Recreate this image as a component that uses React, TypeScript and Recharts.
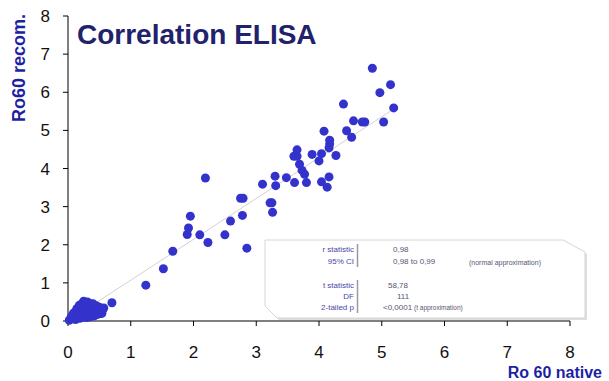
import { ScatterChart, Scatter, XAxis, YAxis } from "recharts";

const X_TICKS = [0, 1, 2, 3, 4, 5, 6, 7, 8];
const Y_TICKS = [0, 1, 2, 3, 4, 5, 6, 7, 8];

// main scatter (native x, recombinant y)
const SPREAD_X = [
  4.85, 5.14, 4.97, 5.19, 4.39, 5.03, 4.69, 4.73, 4.55, 4.08, 4.44, 4.52, 4.17, 4.17, 4.16,
  4.27, 4.04, 4.0, 3.89, 3.65, 3.6, 3.65, 3.69, 3.73, 3.77, 3.48, 3.61, 3.8, 4.04, 4.16,
  4.13, 3.3, 3.31, 3.1, 2.19, 2.75, 2.79, 3.22, 3.25, 3.26, 2.78, 2.59, 1.95, 1.92, 1.9,
  2.1, 2.23, 2.5, 2.85, 1.67, 1.52, 1.24, 0.7,
];
const SPREAD_Y = [
  6.63, 6.2, 5.99, 5.59, 5.69, 5.22, 5.22, 5.22, 5.25, 4.98, 4.99, 4.82, 4.74, 4.64, 4.54,
  4.34, 4.39, 4.2, 4.37, 4.49, 4.32, 4.32, 4.11, 3.95, 3.85, 3.76, 3.63, 3.63, 3.65, 3.78,
  3.51, 3.8, 3.55, 3.59, 3.75, 3.22, 3.22, 3.1, 3.1, 2.85, 2.77, 2.62, 2.75, 2.44, 2.27,
  2.26, 2.06, 2.26, 1.91, 1.83, 1.37, 0.94, 0.48,
];

// negative samples bunched near the origin
const LOW_X = [
  0.02, 0.04, 0.05, 0.08, 0.09, 0.11, 0.11, 0.12, 0.13, 0.15, 0.15, 0.18, 0.19, 0.2, 0.21,
  0.22, 0.23, 0.24, 0.25, 0.25, 0.26, 0.28, 0.29, 0.3, 0.31, 0.31, 0.32, 0.33, 0.34, 0.35,
  0.35, 0.36, 0.37, 0.38, 0.38, 0.41, 0.41, 0.43, 0.44, 0.45, 0.46, 0.47, 0.48, 0.5, 0.5,
  0.52, 0.53, 0.55, 0.54, 0.57, 0.12, 0.19, 0.24, 0.07, 0.14, 0.09, 0.3, 0.44, 0.4, 0.18,
];
const LOW_Y = [
  0.02, 0.05, 0.1, 0.07, 0.14, 0.11, 0.19, 0.24, 0.09, 0.17, 0.28, 0.21, 0.35, 0.13, 0.27,
  0.45, 0.33, 0.39, 0.52, 0.19, 0.28, 0.43, 0.12, 0.35, 0.5, 0.23, 0.17, 0.41, 0.3, 0.46,
  0.11, 0.37, 0.24, 0.41, 0.18, 0.3, 0.13, 0.37, 0.23, 0.4, 0.17, 0.32, 0.26, 0.36, 0.19,
  0.24, 0.33, 0.29, 0.2, 0.34, 0.04, 0.07, 0.1, 0.15, 0.32, 0.21, 0.09, 0.16, 0.45, 0.41,
];

// fitted line end points
const FIT_X = [0, 5.2];
const FIT_Y = [0, 5.57];

const STAT_LABELS = ["r statistic", "95% CI", "t statistic", "DF", "2-tailed p"];

const points = [
  ...SPREAD_X.map((x, i) => ({ x, y: SPREAD_Y[i] })),
  ...LOW_X.map((x, i) => ({ x, y: LOW_Y[i] })),
];
const fitLine = FIT_X.map((x, i) => ({ x, y: FIT_Y[i] }));

const FONT = "'Liberation Sans', Arial, sans-serif";
const DOT = "#3333cc";
const AXIS_BLUE = "#1f1fa3";

const Dot = (props: any) => <circle cx={props.cx} cy={props.cy} r={4.5} fill={DOT} />;

export default function App() {
  const tick = { fontSize: 17, fill: "#111", fontFamily: FONT };
  return (
    <div style={{ position: "absolute", left: 0, top: 0, width: 609, height: 381, background: "#fff" }}>
      <ScatterChart width={609} height={381} margin={{ top: 16, right: 39, bottom: 30, left: 0 }}>
        <XAxis
          type="number"
          dataKey="x"
          domain={[0, 8]}
          ticks={X_TICKS}
          height={30}
          tickSize={5}
          tickMargin={20}
          tick={tick}
          axisLine={{ stroke: "#000" }}
          tickLine={{ stroke: "#000" }}
        />
        <YAxis
          type="number"
          dataKey="y"
          domain={[0, 8]}
          ticks={Y_TICKS}
          width={68}
          tickSize={5}
          tickMargin={13}
          tick={tick}
          axisLine={{ stroke: "#000" }}
          tickLine={{ stroke: "#000" }}
        />
        <Scatter
          data={fitLine}
          line={{ stroke: "#d2d2d2", strokeWidth: 1 }}
          shape={() => null}
          legendType="none"
          isAnimationActive={false}
        />
        <Scatter data={points} shape={Dot} isAnimationActive={false} />
      </ScatterChart>

      <svg
        width={609}
        height={381}
        style={{ position: "absolute", left: 0, top: 0, pointerEvents: "none", fontFamily: FONT }}
      >
        <text x={77} y={44} fontSize={28} fontWeight="bold" fill="#22226b">
          Correlation ELISA
        </text>
        <text
          x={25}
          y={68}
          transform="rotate(-90 25 68)"
          textAnchor="middle"
          fontSize={18}
          fontWeight="bold"
          fill={AXIS_BLUE}
        >
          Ro60 recom.
        </text>
        <text x={602} y={378} textAnchor="end" fontSize={16} fontWeight="bold" fill={AXIS_BLUE}>
          Ro 60 native
        </text>

        {/* pasted statistics panel */}
        <polygon points="267,242 565,242 587,254 587,320 279,320 267,308" fill="#c8c8c8" opacity={0.6} />
        <polygon points="265,240 563,240 585,252 585,318 277,318 265,306" fill="#fff" stroke="#d6d6d6" />
        <line x1={357.5} y1={244} x2={357.5} y2={267} stroke="#9a9a9a" strokeWidth={1.5} />
        <line x1={357.5} y1={280} x2={357.5} y2={313} stroke="#9a9a9a" strokeWidth={1.5} />
        <g fontSize={8} fill="#4848a8" textAnchor="end">
          <text x={354} y={252}>{STAT_LABELS[0]}</text>
          <text x={354} y={264}>{STAT_LABELS[1]}</text>
          <text x={354} y={288}>{STAT_LABELS[2]}</text>
          <text x={354} y={299}>{STAT_LABELS[3]}</text>
          <text x={354} y={310}>{STAT_LABELS[4]}</text>
        </g>
        <g fontSize={8} fill="#555575">
          <text x={393} y={252}>0,98</text>
          <text x={393} y={264}>0,98 to 0,99</text>
          <text x={469} y={265} fontSize={7}>(normal approximation)</text>
          <text x={388} y={288}>58,78</text>
          <text x={397} y={299}>111</text>
          <text x={383} y={310}>&lt;0,0001</text>
          <text x={414} y={310} fontSize={6.5}>(t approximation)</text>
        </g>
      </svg>
    </div>
  );
}
